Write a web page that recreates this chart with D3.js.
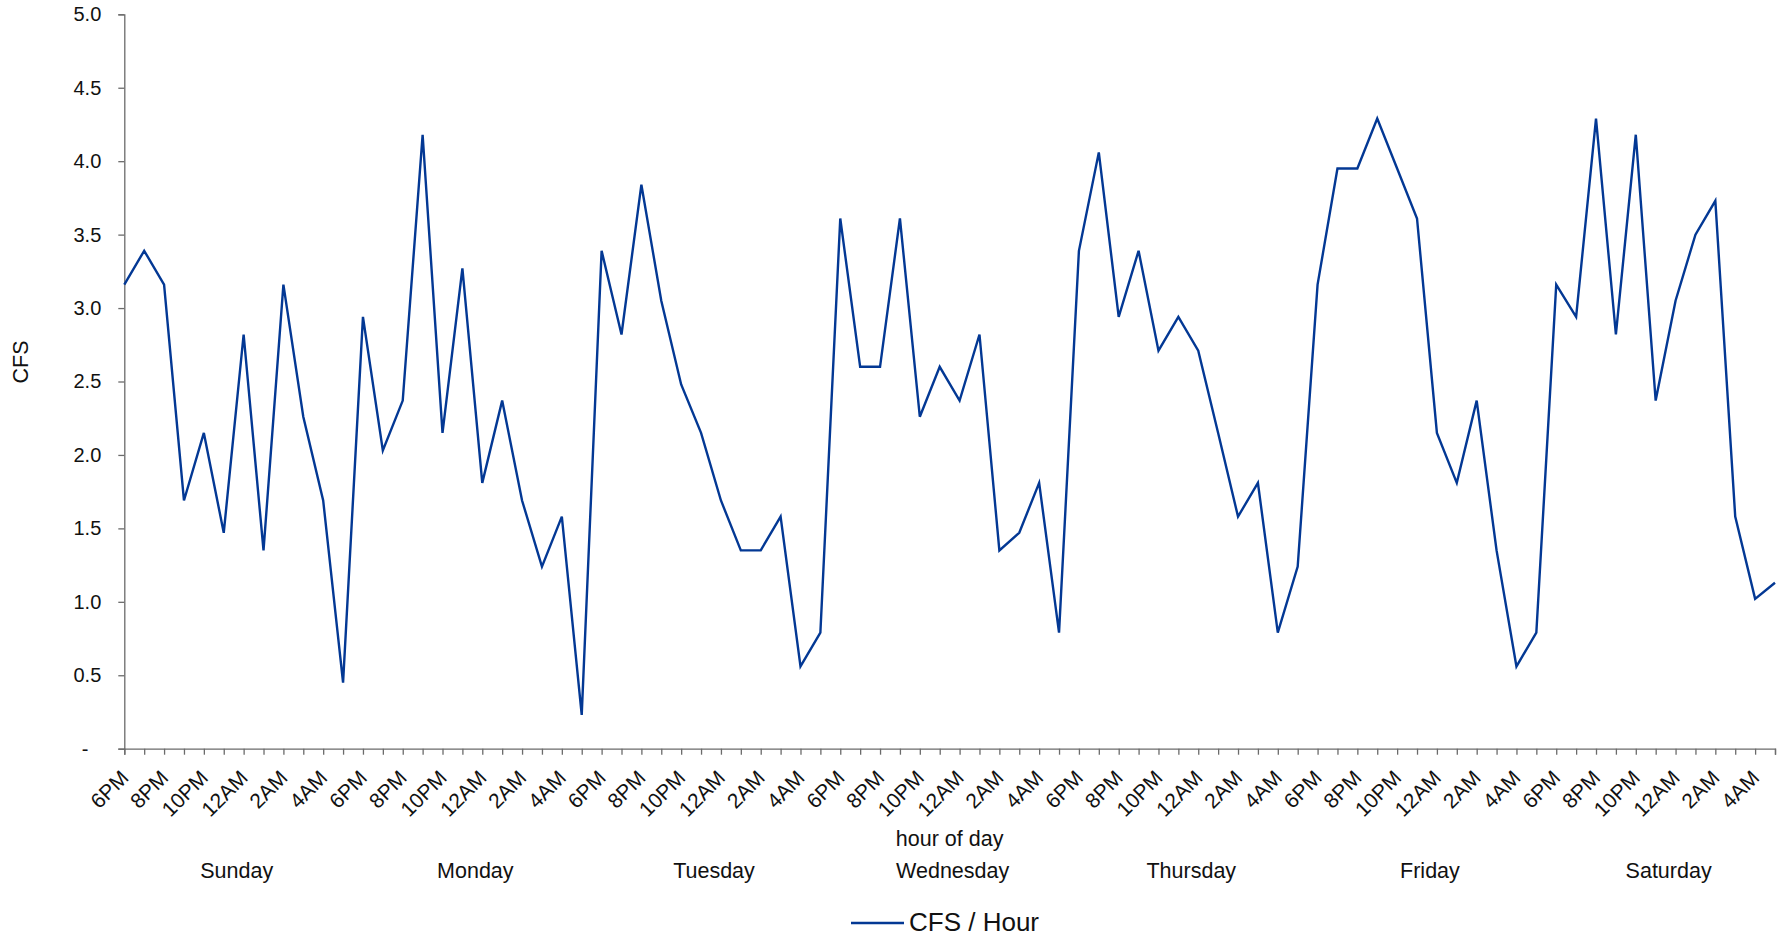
<!DOCTYPE html>
<html>
<head>
<meta charset="utf-8">
<script src="https://cdn.jsdelivr.net/npm/d3@7"></script>
<style>
  html, body { margin: 0; padding: 0; background: #ffffff; }
  svg { display: block; font-family: "Liberation Sans", Arial, sans-serif; }
</style>
</head>
<body>
<svg id="chart" width="1783" height="937"></svg>
<script>
// ---- data ----
const days = ["Sunday", "Monday", "Tuesday", "Wednesday", "Thursday", "Friday", "Saturday"];
const hours = ["6PM", "7PM", "8PM", "9PM", "10PM", "11PM", "12AM", "1AM", "2AM", "3AM", "4AM", "5AM"];
const values = [
  3.16, 3.39, 3.16, 1.69, 2.15, 1.47, 2.82, 1.35, 3.16, 2.26, 1.69, 0.45,
  2.94, 2.03, 2.37, 4.18, 2.15, 3.27, 1.81, 2.37, 1.69, 1.24, 1.58, 0.23,
  3.39, 2.82, 3.84, 3.05, 2.48, 2.15, 1.69, 1.35, 1.35, 1.58, 0.56, 0.79,
  3.61, 2.60, 2.60, 3.61, 2.26, 2.60, 2.37, 2.82, 1.35, 1.47, 1.81, 0.79,
  3.39, 4.06, 2.94, 3.39, 2.71, 2.94, 2.71, 2.15, 1.58, 1.81, 0.79, 1.24,
  3.16, 3.95, 3.95, 4.29, 3.95, 3.61, 2.15, 1.81, 2.37, 1.35, 0.56, 0.79,
  3.16, 2.94, 4.29, 2.82, 4.18, 2.37, 3.05, 3.50, 3.73, 1.58, 1.02, 1.13
];
const yTicks = [0, 0.5, 1.0, 1.5, 2.0, 2.5, 3.0, 3.5, 4.0, 4.5, 5.0];
const seriesName = "CFS / Hour";
const xTitle = "hour of day";
const yTitle = "CFS";

// ---- layout ----
const svg = d3.select("#chart");
const plotLeft = 124.3, plotRight = 1775, plotTop = 14.3, plotBottom = 748.7;
const lineColor = "#033894";
const axisColor = "#6b6b6b";
const textColor = "#111111";

const categories = days.flatMap(d => hours.map(h => d + "|" + h));
const data = categories.map((c, i) => ({ key: c, value: values[i] }));

const x = d3.scalePoint().domain(categories).range([plotLeft, plotRight]).padding(0);
const y = d3.scaleLinear().domain([0, 5]).range([plotBottom, plotTop]);

// y axis
const yAxis = svg.append("g")
  .attr("transform", `translate(${plotLeft},0)`)
  .call(d3.axisLeft(y).tickValues(yTicks).tickSize(6).tickPadding(17)
    .tickFormat(d => d === 0 ? "-" : d3.format(".1f")(d)));
yAxis.select(".domain").attr("stroke", axisColor).attr("stroke-width", 1.3);
yAxis.selectAll(".tick line").attr("stroke", axisColor).attr("stroke-width", 1.3);
yAxis.selectAll(".tick text")
  .attr("fill", textColor)
  .style("font-size", "20px")
  .style("font-family", "'Liberation Sans', Arial, sans-serif")
  .attr("dx", d => d === 0 ? -13 : 0);

// x axis
const xAxis = svg.append("g")
  .attr("transform", `translate(0,${plotBottom})`)
  .call(d3.axisBottom(x).tickSize(6)
    .tickFormat((d, i) => i % 2 === 0 ? d.split("|")[1] : ""));
xAxis.select(".domain").attr("stroke", axisColor).attr("stroke-width", 1.3);
xAxis.selectAll(".tick line").attr("stroke", axisColor).attr("stroke-width", 1.3);
xAxis.selectAll(".tick text")
  .attr("fill", textColor)
  .style("font-size", "21px")
  .style("font-family", "'Liberation Sans', Arial, sans-serif")
  .style("text-anchor", "end")
  .attr("x", 0).attr("y", 0).attr("dy", 0)
  .attr("transform", "translate(5,30.5) rotate(-45)");

// line
const line = d3.line()
  .x(d => x(d.key))
  .y(d => y(d.value));
svg.append("path")
  .datum(data)
  .attr("fill", "none")
  .attr("stroke", lineColor)
  .attr("stroke-width", 2.4)
  .attr("stroke-linejoin", "miter")
  .attr("d", line);

// axis titles
svg.append("text")
  .attr("x", (plotLeft + plotRight) / 2)
  .attr("y", 846)
  .attr("text-anchor", "middle")
  .attr("fill", textColor)
  .style("font-size", "21.5px")
  .text(xTitle);

svg.append("text")
  .attr("transform", `translate(28,362) rotate(-90)`)
  .attr("text-anchor", "middle")
  .attr("fill", textColor)
  .style("font-size", "21.5px")
  .text(yTitle);

// day group labels
svg.append("g").selectAll("text")
  .data(days)
  .join("text")
  .attr("x", d => (x(d + "|" + hours[0]) + x(d + "|" + hours[hours.length - 1])) / 2 + 3)
  .attr("y", 878)
  .attr("text-anchor", "middle")
  .attr("fill", textColor)
  .style("font-size", "21.5px")
  .text(d => d);

// legend
const lg = svg.append("g");
lg.append("line")
  .attr("x1", 851).attr("x2", 904)
  .attr("y1", 923).attr("y2", 923)
  .attr("stroke", lineColor)
  .attr("stroke-width", 2.6);
lg.append("text")
  .attr("x", 909)
  .attr("y", 931)
  .attr("fill", textColor)
  .style("font-size", "26px")
  .text(seriesName);
</script>
</body>
</html>
